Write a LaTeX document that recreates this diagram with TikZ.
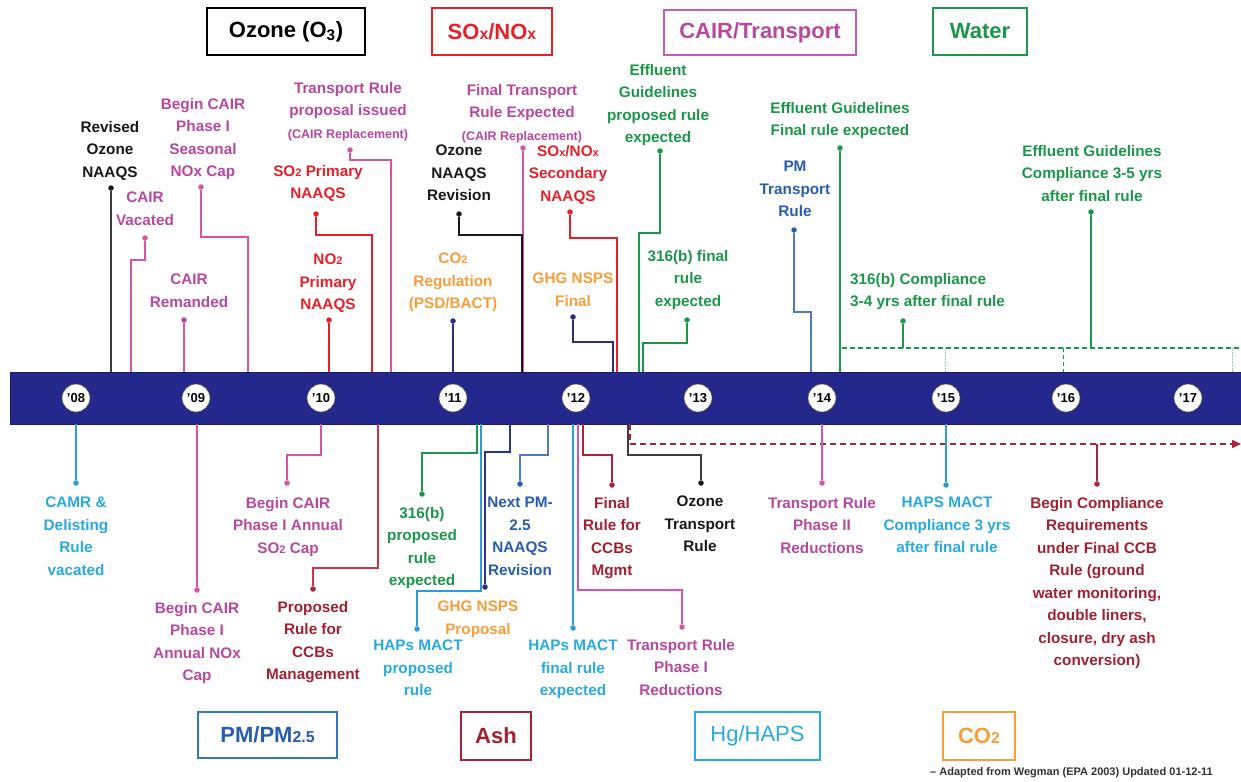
\documentclass[tikz,border=0pt]{standalone}
\usepackage{fontspec}
\setmainfont{Liberation Sans}
\usetikzlibrary{arrows.meta}
\definecolor{barblue}{RGB}{36,40,140}
\definecolor{ozk}{RGB}{25,25,25}
\definecolor{ozline}{RGB}{60,60,60}
\definecolor{cairtext}{RGB}{182,72,160}
\definecolor{cairline}{RGB}{214,84,164}
\definecolor{cairbox}{RGB}{196,90,186}
\definecolor{soxred}{RGB}{230,32,42}
\definecolor{water}{RGB}{28,150,72}
\definecolor{pmblue}{RGB}{40,92,176}
\definecolor{pmbox}{RGB}{52,118,196}
\definecolor{pmline}{RGB}{80,120,196}
\definecolor{navyline}{RGB}{44,44,130}
\definecolor{haps}{RGB}{40,170,225}
\definecolor{hapsline}{RGB}{44,156,216}
\definecolor{co2}{RGB}{245,158,58}
\definecolor{ashred}{RGB}{160,34,48}
\definecolor{ashline}{RGB}{170,36,56}
\definecolor{ccbline}{RGB}{205,52,76}
\newcommand\lblf{\fontsize{15.3}{22.5}\selectfont\bfseries}
\newcommand\catf{\fontsize{22}{26}\selectfont\bfseries}
\newcommand\yrf{\fontsize{13}{14}\selectfont\bfseries}
\newcommand\smallf{\fontsize{12.5}{14}\selectfont}
\newcommand\lowsub[1]{\scalebox{0.72}{#1}}
\tikzset{
 lbl/.style={align=center, inner sep=0pt, anchor=north, font=\lblf},
 dt/.style={circle, fill=#1, inner sep=0pt, minimum size=5.5pt},
 ln/.style={draw=#1, line width=1.4pt},
 cat/.style={draw=#1, line width=1.3pt, inner sep=0pt, font=\catf},
 yr/.style={circle, fill=white, draw=black!70, line width=0.6pt, inner sep=0pt, minimum size=28pt, font=\yrf, text=black},
}
\begin{document}
\begin{tikzpicture}[x=1pt,y=-1pt]
\useasboundingbox (0,0) rectangle (1241,781);
\fill[white] (0,0) rectangle (1241,781);

% timeline bar
\node[fill=barblue, draw=barblue!70!black, line width=0.8pt, minimum width=1231pt, minimum height=52pt, inner sep=0pt] (bar) at (625.5,398) {};
\node[yr] (y08) at (76,398) {'08};
\node[yr] (y09) at (196,398) {'09};
\node[yr] (y10) at (321,398) {'10};
\node[yr] (y11) at (453,398) {'11};
\node[yr] (y12) at (576,398) {'12};
\node[yr] (y13) at (698,398) {'13};
\node[yr] (y14) at (822,398) {'14};
\node[yr] (y15) at (946,398) {'15};
\node[yr] (y16) at (1066,398) {'16};
\node[yr] (y17) at (1188,398) {'17};

% category boxes
\node[cat=black, text=black, minimum width=158pt, minimum height=47pt] (cOz) at (286,31.5) {Ozone (O\textsubscript{3})};
\node[cat=soxred, text=soxred, minimum width=120pt, minimum height=47pt] (cSox) at (492,31.5) {SO\lowsub{x}/NO\lowsub{x}};
\node[cat=cairbox, text=cairtext, minimum width=192pt, minimum height=45pt] (cCair) at (760,32.5) {CAIR/Transport};
\node[cat=water, text=water, minimum width=94pt, minimum height=47pt] (cWat) at (980,31.5) {Water};
\node[cat=pmbox, text=pmblue, minimum width=139pt, minimum height=46pt] (cPm) at (267.5,735) {PM/PM\lowsub{2.5}};
\node[cat=ashline, text=ashred, minimum width=70pt, minimum height=48pt] (cAsh) at (496,736) {Ash};
\node[cat=haps, text=haps, minimum width=125pt, minimum height=48pt, font=\fontsize{22}{26}\selectfont] (cHg) at (757.5,736) {Hg/HAPS};
\node[cat=co2, text=co2, minimum width=72pt, minimum height=48pt] (cCo2) at (979,736) {CO\lowsub{2}};

% ---------- top labels ----------
\node[lbl, text=ozk] (L1) at (110,121) {Revised\\Ozone\\NAAQS};
\node[lbl, text=cairtext] (L2) at (145,192) {CAIR\\Vacated};
\node[lbl, text=cairtext] (L3) at (203,98) {Begin CAIR\\Phase I\\Seasonal\\NOx Cap};
\node[lbl, text=cairtext] (L4) at (189,274) {CAIR\\Remanded};
\node[lbl, text=cairtext] (L5) at (348,82) {Transport Rule\\proposal issued\\{\smallf (CAIR Replacement)}};
\node[lbl, text=soxred] (L6) at (318,165) {SO\lowsub{2} Primary\\NAAQS};
\node[lbl, text=soxred] (L7) at (328,254) {NO\lowsub{2}\\Primary\\NAAQS};
\node[lbl, text=cairtext] (L8) at (522,84) {Final Transport\\Rule Expected\\{\smallf (CAIR Replacement)}};
\node[lbl, text=ozk] (L9) at (459,145) {Ozone\\NAAQS\\Revision};
\node[lbl, text=soxred] (L10) at (568,145) {SO\lowsub{x}/NO\lowsub{x}\\Secondary\\NAAQS};
\node[lbl, text=co2] (L11) at (453,253) {CO\lowsub{2}\\Regulation\\(PSD/BACT)};
\node[lbl, text=co2] (L12) at (573,273) {GHG NSPS\\Final};
\node[lbl, text=water] (L13) at (658,64) {Effluent\\Guidelines\\proposed rule\\expected};
\node[lbl, text=water] (L14) at (688,250) {316(b) final\\rule\\expected};
\node[lbl, text=water] (L15) at (840,102) {Effluent Guidelines\\Final rule expected};
\node[lbl, text=pmblue] (L16) at (795,161) {PM\\Transport\\Rule};
\node[lbl, text=water, align=left, anchor=north west] (L17) at (850,273) {316(b) Compliance\\3-4 yrs after final rule};
\node[lbl, text=water] (L18) at (1092,145) {Effluent Guidelines\\Compliance 3-5 yrs\\after final rule};

% top dots
\node[dt=ozk] (d1) at (111,188) {};
\node[dt=cairline] (d2) at (145,238) {};
\node[dt=cairline] (d3) at (201,187) {};
\node[dt=cairtext] (d4) at (184,320) {};
\node[dt=cairline] (d5) at (350,150) {};
\node[dt=soxred] (d6) at (316,214) {};
\node[dt=soxred] (d7) at (329,320) {};
\node[dt=cairline] (d8) at (523,148) {};
\node[dt=ozk] (d9) at (459,214) {};
\node[dt=soxred] (d10) at (570,212) {};
\node[dt=navyline] (d11) at (453,321) {};
\node[dt=navyline] (d12) at (573,317) {};
\node[dt=water] (d13) at (660,151) {};
\node[dt=water] (d14) at (687,320) {};
\node[dt=water] (d15) at (840,148) {};
\node[dt=pmblue] (d16) at (794,230) {};
\node[dt=water] (d17) at (903,321) {};
\node[dt=water] (d18) at (1091,212) {};

% top connectors
\draw[ln=ozline] (d1) -- (111,0 |- bar.north);
\draw[ln=cairline] (d2) |- (131,260) -- (131,0 |- bar.north);
\draw[ln=cairline] (d3) |- (248,237) -- (248,0 |- bar.north);
\draw[ln=cairline] (d4) -- (184,0 |- bar.north);
\draw[ln=cairline] (d5) |- (391,160) -- (391,0 |- bar.north);
\draw[ln=soxred] (d6) |- (372,235) -- (372,0 |- bar.north);
\draw[ln=soxred] (d7) -- (329,0 |- bar.north);
\draw[ln=cairline] (d8) -- (523,0 |- bar.north);
\draw[ln=ozk] (d9) |- (522,235) -- (522,0 |- bar.north);
\draw[ln=soxred] (d10) |- (617,238) -- (617,0 |- bar.north);
\draw[ln=navyline] (d11) -- (453,0 |- bar.north);
\draw[ln=navyline] (d12) |- (613,342) -- (613,0 |- bar.north);
\draw[ln=water] (d13) |- (639,233) -- (639,0 |- bar.north);
\draw[ln=water] (d14) |- (643,343) -- (643,0 |- bar.north);
\draw[ln=water] (d15) -- (840,0 |- bar.north);
\draw[ln=pmline] (d16) |- (811,312) -- (811,0 |- bar.north);

% water compliance dashed line
\coordinate (wl) at (842,348);
\coordinate (wr) at (1241,348);
\draw[draw=water, line width=1.1pt, dash pattern=on 5pt off 3pt] (wl) -- (wr);
\draw[ln=water] (d17) -- (d17 |- wl);
\draw[ln=water] (d18) -- (d18 |- wl);
\draw[draw=water!55, line width=0.8pt, densely dotted] (945,348) -- (945,0 |- bar.north);
\draw[draw=water, line width=1pt, dash pattern=on 4pt off 3pt] (1063,348) -- (1063,0 |- bar.north);
\draw[draw=water!55, line width=0.8pt, densely dotted] (1232,348) -- (1232,0 |- bar.north);

% ---------- bottom labels ----------
\node[lbl, text=haps] (B1) at (76,497) {CAMR \&\\Delisting\\Rule\\vacated};
\node[lbl, text=cairtext] (B2) at (197,602) {Begin CAIR\\Phase I\\Annual NOx\\Cap};
\node[lbl, text=cairtext] (B3) at (288,497) {Begin CAIR\\Phase I Annual\\SO\lowsub{2} Cap};
\node[lbl, text=ashred] (B4) at (313,601) {Proposed\\Rule for\\CCBs\\Management};
\node[lbl, text=water] (B5) at (422,507) {316(b)\\proposed\\rule\\expected};
\node[lbl, text=haps] (B6) at (418,640) {HAPs MACT\\proposed\\rule};
\node[lbl, text=co2] (B7) at (478,601) {GHG NSPS\\Proposal};
\node[lbl, text=pmblue] (B8) at (520,497) {Next PM-\\2.5\\NAAQS\\Revision};
\node[lbl, text=haps] (B9) at (573,640) {HAPs MACT\\final rule\\expected};
\node[lbl, text=ashred] (B10) at (612,497) {Final\\Rule for\\CCBs\\Mgmt};
\node[lbl, text=cairtext] (B11) at (681,639) {Transport Rule\\Phase I\\Reductions};
\node[lbl, text=ozk] (B12) at (700,496) {Ozone\\Transport\\Rule};
\node[lbl, text=cairtext] (B13) at (822,497) {Transport Rule\\Phase II\\Reductions};
\node[lbl, text=haps] (B14) at (947,497) {HAPS MACT\\Compliance 3 yrs\\after final rule};
\node[lbl, text=ashred] (B15) at (1097,497) {Begin Compliance\\Requirements\\under Final CCB\\Rule (ground\\water monitoring,\\double liners,\\closure, dry ash\\conversion)};

% bottom dots
\node[dt=hapsline] (e1) at (76,483) {};
\node[dt=cairline] (e2) at (197,590) {};
\node[dt=cairline] (e3) at (287,483) {};
\node[dt=ashline] (e4) at (313,589) {};
\node[dt=water] (e5) at (422,494) {};
\node[dt=hapsline] (e6) at (417,629) {};
\node[dt=navyline] (e7) at (485,587) {};
\node[dt=pmblue] (e8) at (520,484) {};
\node[dt=hapsline] (e9) at (573,628) {};
\node[dt=ashline] (e10) at (612,485) {};
\node[dt=cairline] (e11) at (682,627) {};
\node[dt=ozk] (e12) at (701,483) {};
\node[dt=cairline] (e13) at (822,483) {};
\node[dt=hapsline] (e14) at (946,485) {};
\node[dt=ashline] (e15) at (1097,484) {};

% red dashed CCB line
\draw[draw=ashline, line width=1.3pt, dash pattern=on 6pt off 4pt, -{Triangle[length=9pt,width=8pt]}] (630,0 |- bar.south) -- (630,444) -- (1241,444);
\coordinate (al) at (1097,444);

% bottom connectors
\draw[ln=hapsline] (76,0 |- bar.south) -- (e1);
\draw[ln=cairline] (197,0 |- bar.south) -- (e2);
\draw[ln=cairline] (321,0 |- bar.south) -- (321,455) -| (e3);
\draw[ln=ccbline] (378,0 |- bar.south) -- (378,568) -| (e4);
\draw[ln=water] (477,0 |- bar.south) -- (477,453) -| (e5);
\draw[ln=hapsline] (481,0 |- bar.south) -- (481,591) -| (e6);
\draw[ln=navyline!80!pmblue] (510,0 |- bar.south) -- (510,452) -| (e7);
\draw[ln=pmline] (548,0 |- bar.south) -- (548,455) -| (e8);
\draw[ln=hapsline] (573,0 |- bar.south) -- (e9);
\draw[ln=ashline] (583,0 |- bar.south) -- (583,455) -| (e10);
\draw[ln=cairline] (578,0 |- bar.south) -- (578,590) -| (e11);
\draw[ln=ozline] (628,0 |- bar.south) -- (628,455) -| (e12);
\draw[ln=cairline] (822,0 |- bar.south) -- (e13);
\draw[ln=hapsline] (946,0 |- bar.south) -- (e14);
\draw[ln=ashline] (al) -- (e15);

% footnote
\node[anchor=west, inner sep=0pt, font=\fontsize{11}{12}\selectfont\bfseries, text=black!80] (foot) at (930,773) {– Adapted from Wegman (EPA 2003) Updated 01-12-11};
\end{tikzpicture}
\end{document}
